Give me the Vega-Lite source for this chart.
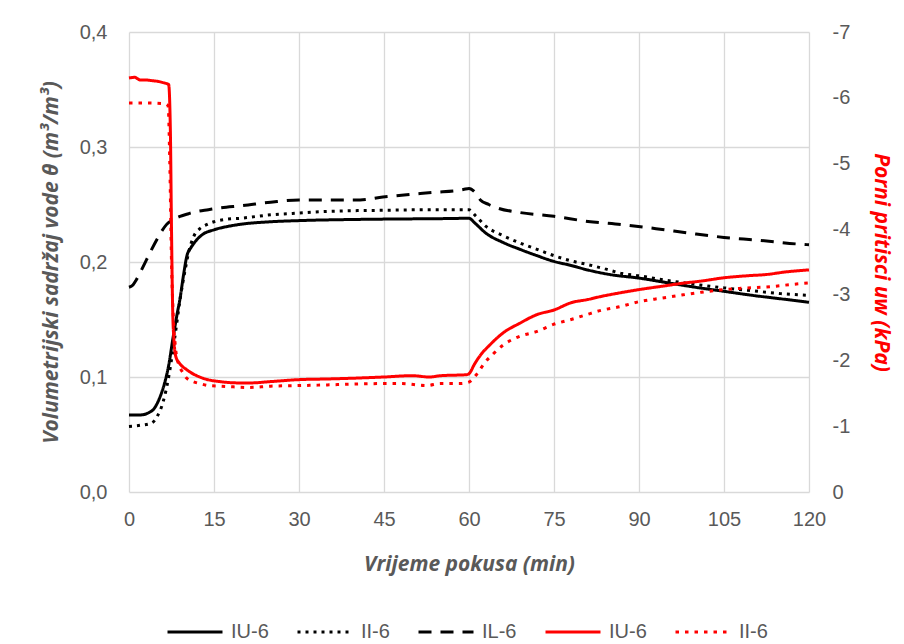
{
  "$schema": "https://vega.github.io/schema/vega-lite/v6.json",
  "width": 680,
  "height": 460,
  "autosize": "none",
  "padding": {"left": 129, "top": 32, "right": 95, "bottom": 152},
  "background": "white",
  "config": {
    "view": {"stroke": null},
    "axis": {"labelFont": "Liberation Sans", "labelFontSize": 20, "labelColor": "#595959", "titleFont": "Open Sans", "titleFontSize": 21, "titleFontWeight": "bold", "titleFontStyle": "italic", "titleColor": "#595959", "gridColor": "#d9d9d9", "gridWidth": 1.3, "domain": false, "ticks": false, "labelFlush": false}
  },
  "datasets": {
    "pts": [
      {"s": "IU-6 t", "t": 0, "v": 0.067}, {"s": "IU-6 t", "t": 2, "v": 0.067}, {"s": "IU-6 t", "t": 3.5, "v": 0.069}, {"s": "IU-6 t", "t": 4.5, "v": 0.073}, {"s": "IU-6 t", "t": 5.5, "v": 0.083}, {"s": "IU-6 t", "t": 6.3, "v": 0.095}, {"s": "IU-6 t", "t": 7, "v": 0.11}, {"s": "IU-6 t", "t": 7.8, "v": 0.135}, {"s": "IU-6 t", "t": 8.5, "v": 0.155}, {"s": "IU-6 t", "t": 9, "v": 0.168}, {"s": "IU-6 t", "t": 9.6, "v": 0.188}, {"s": "IU-6 t", "t": 10.2, "v": 0.205}, {"s": "IU-6 t", "t": 11, "v": 0.213}, {"s": "IU-6 t", "t": 11.9, "v": 0.219}, {"s": "IU-6 t", "t": 13, "v": 0.224}, {"s": "IU-6 t", "t": 15, "v": 0.228}, {"s": "IU-6 t", "t": 17.5, "v": 0.231}, {"s": "IU-6 t", "t": 20, "v": 0.233}, {"s": "IU-6 t", "t": 25, "v": 0.235}, {"s": "IU-6 t", "t": 30, "v": 0.236}, {"s": "IU-6 t", "t": 40, "v": 0.237}, {"s": "IU-6 t", "t": 50, "v": 0.2375}, {"s": "IU-6 t", "t": 55, "v": 0.2377}, {"s": "IU-6 t", "t": 60, "v": 0.238}, {"s": "IU-6 t", "t": 61, "v": 0.234}, {"s": "IU-6 t", "t": 63, "v": 0.225}, {"s": "IU-6 t", "t": 66, "v": 0.217}, {"s": "IU-6 t", "t": 69, "v": 0.211}, {"s": "IU-6 t", "t": 72, "v": 0.2055}, {"s": "IU-6 t", "t": 75, "v": 0.2005}, {"s": "IU-6 t", "t": 78, "v": 0.197}, {"s": "IU-6 t", "t": 81, "v": 0.193}, {"s": "IU-6 t", "t": 85, "v": 0.189}, {"s": "IU-6 t", "t": 90, "v": 0.186}, {"s": "IU-6 t", "t": 95, "v": 0.182}, {"s": "IU-6 t", "t": 100, "v": 0.178}, {"s": "IU-6 t", "t": 105, "v": 0.1745}, {"s": "IU-6 t", "t": 110, "v": 0.171}, {"s": "IU-6 t", "t": 115, "v": 0.168}, {"s": "IU-6 t", "t": 120, "v": 0.165},

      {"s": "II-6 t", "t": 0, "v": 0.057}, {"s": "II-6 t", "t": 2, "v": 0.058}, {"s": "II-6 t", "t": 4, "v": 0.06}, {"s": "II-6 t", "t": 5, "v": 0.066}, {"s": "II-6 t", "t": 6, "v": 0.078}, {"s": "II-6 t", "t": 7, "v": 0.1}, {"s": "II-6 t", "t": 7.5, "v": 0.115}, {"s": "II-6 t", "t": 8.1, "v": 0.135}, {"s": "II-6 t", "t": 9, "v": 0.167}, {"s": "II-6 t", "t": 9.9, "v": 0.193}, {"s": "II-6 t", "t": 10.6, "v": 0.21}, {"s": "II-6 t", "t": 11.4, "v": 0.222}, {"s": "II-6 t", "t": 12.5, "v": 0.229}, {"s": "II-6 t", "t": 13.7, "v": 0.2325}, {"s": "II-6 t", "t": 15, "v": 0.235}, {"s": "II-6 t", "t": 17, "v": 0.237}, {"s": "II-6 t", "t": 19.6, "v": 0.238}, {"s": "II-6 t", "t": 25, "v": 0.241}, {"s": "II-6 t", "t": 30, "v": 0.2426}, {"s": "II-6 t", "t": 35, "v": 0.244}, {"s": "II-6 t", "t": 45, "v": 0.245}, {"s": "II-6 t", "t": 55, "v": 0.2455}, {"s": "II-6 t", "t": 60, "v": 0.2455}, {"s": "II-6 t", "t": 61, "v": 0.241}, {"s": "II-6 t", "t": 63, "v": 0.231}, {"s": "II-6 t", "t": 66, "v": 0.223}, {"s": "II-6 t", "t": 69, "v": 0.2165}, {"s": "II-6 t", "t": 72, "v": 0.211}, {"s": "II-6 t", "t": 75, "v": 0.2055}, {"s": "II-6 t", "t": 78, "v": 0.201}, {"s": "II-6 t", "t": 81, "v": 0.1977}, {"s": "II-6 t", "t": 84, "v": 0.194}, {"s": "II-6 t", "t": 87, "v": 0.19}, {"s": "II-6 t", "t": 90, "v": 0.188}, {"s": "II-6 t", "t": 95, "v": 0.184}, {"s": "II-6 t", "t": 100, "v": 0.1805}, {"s": "II-6 t", "t": 105, "v": 0.1775}, {"s": "II-6 t", "t": 110, "v": 0.175}, {"s": "II-6 t", "t": 115, "v": 0.1725}, {"s": "II-6 t", "t": 120, "v": 0.171},

      {"s": "IL-6 t", "t": 0, "v": 0.178}, {"s": "IL-6 t", "t": 0.7, "v": 0.18}, {"s": "IL-6 t", "t": 1.3, "v": 0.1846}, {"s": "IL-6 t", "t": 2.2, "v": 0.193}, {"s": "IL-6 t", "t": 3.1, "v": 0.202}, {"s": "IL-6 t", "t": 4, "v": 0.211}, {"s": "IL-6 t", "t": 4.9, "v": 0.2194}, {"s": "IL-6 t", "t": 5.8, "v": 0.227}, {"s": "IL-6 t", "t": 6.6, "v": 0.2325}, {"s": "IL-6 t", "t": 7.8, "v": 0.237}, {"s": "IL-6 t", "t": 9, "v": 0.2397}, {"s": "IL-6 t", "t": 10.5, "v": 0.242}, {"s": "IL-6 t", "t": 12, "v": 0.244}, {"s": "IL-6 t", "t": 14, "v": 0.2455}, {"s": "IL-6 t", "t": 16, "v": 0.247}, {"s": "IL-6 t", "t": 20, "v": 0.249}, {"s": "IL-6 t", "t": 25, "v": 0.252}, {"s": "IL-6 t", "t": 30, "v": 0.254}, {"s": "IL-6 t", "t": 40.8, "v": 0.254}, {"s": "IL-6 t", "t": 44.8, "v": 0.2565}, {"s": "IL-6 t", "t": 49, "v": 0.2585}, {"s": "IL-6 t", "t": 53.7, "v": 0.2605}, {"s": "IL-6 t", "t": 59, "v": 0.263}, {"s": "IL-6 t", "t": 60, "v": 0.264}, {"s": "IL-6 t", "t": 61, "v": 0.261}, {"s": "IL-6 t", "t": 62, "v": 0.254}, {"s": "IL-6 t", "t": 63.5, "v": 0.25}, {"s": "IL-6 t", "t": 65, "v": 0.247}, {"s": "IL-6 t", "t": 69, "v": 0.243}, {"s": "IL-6 t", "t": 75, "v": 0.2397}, {"s": "IL-6 t", "t": 81, "v": 0.2353}, {"s": "IL-6 t", "t": 87, "v": 0.2325}, {"s": "IL-6 t", "t": 93, "v": 0.229}, {"s": "IL-6 t", "t": 99, "v": 0.225}, {"s": "IL-6 t", "t": 105, "v": 0.2214}, {"s": "IL-6 t", "t": 111, "v": 0.219}, {"s": "IL-6 t", "t": 117.8, "v": 0.2157}, {"s": "IL-6 t", "t": 120, "v": 0.215},

      {"s": "IU-6 u", "t": 0, "v": -6.3}, {"s": "IU-6 u", "t": 1, "v": -6.31}, {"s": "IU-6 u", "t": 2, "v": -6.27}, {"s": "IU-6 u", "t": 3, "v": -6.27}, {"s": "IU-6 u", "t": 4, "v": -6.26}, {"s": "IU-6 u", "t": 5, "v": -6.25}, {"s": "IU-6 u", "t": 6, "v": -6.23}, {"s": "IU-6 u", "t": 7, "v": -6.2}, {"s": "IU-6 u", "t": 7.3, "v": -5.5}, {"s": "IU-6 u", "t": 7.5, "v": -4.0}, {"s": "IU-6 u", "t": 7.7, "v": -2.8}, {"s": "IU-6 u", "t": 7.9, "v": -2.35}, {"s": "IU-6 u", "t": 8.3, "v": -2.05}, {"s": "IU-6 u", "t": 9, "v": -1.95}, {"s": "IU-6 u", "t": 10.2, "v": -1.86}, {"s": "IU-6 u", "t": 13.1, "v": -1.73}, {"s": "IU-6 u", "t": 16, "v": -1.68}, {"s": "IU-6 u", "t": 19.6, "v": -1.66}, {"s": "IU-6 u", "t": 21.4, "v": -1.66}, {"s": "IU-6 u", "t": 25, "v": -1.68}, {"s": "IU-6 u", "t": 30, "v": -1.71}, {"s": "IU-6 u", "t": 35, "v": -1.72}, {"s": "IU-6 u", "t": 39, "v": -1.73}, {"s": "IU-6 u", "t": 45, "v": -1.75}, {"s": "IU-6 u", "t": 50, "v": -1.77}, {"s": "IU-6 u", "t": 53, "v": -1.75}, {"s": "IU-6 u", "t": 55, "v": -1.77}, {"s": "IU-6 u", "t": 59.6, "v": -1.785}, {"s": "IU-6 u", "t": 60, "v": -1.8}, {"s": "IU-6 u", "t": 61, "v": -1.95}, {"s": "IU-6 u", "t": 62, "v": -2.08}, {"s": "IU-6 u", "t": 63.7, "v": -2.24}, {"s": "IU-6 u", "t": 66, "v": -2.42}, {"s": "IU-6 u", "t": 69, "v": -2.57}, {"s": "IU-6 u", "t": 72, "v": -2.7}, {"s": "IU-6 u", "t": 75, "v": -2.77}, {"s": "IU-6 u", "t": 78, "v": -2.88}, {"s": "IU-6 u", "t": 81, "v": -2.93}, {"s": "IU-6 u", "t": 83, "v": -2.97}, {"s": "IU-6 u", "t": 86.6, "v": -3.03}, {"s": "IU-6 u", "t": 90, "v": -3.08}, {"s": "IU-6 u", "t": 94, "v": -3.13}, {"s": "IU-6 u", "t": 98, "v": -3.18}, {"s": "IU-6 u", "t": 101, "v": -3.21}, {"s": "IU-6 u", "t": 105, "v": -3.26}, {"s": "IU-6 u", "t": 109, "v": -3.29}, {"s": "IU-6 u", "t": 112.5, "v": -3.31}, {"s": "IU-6 u", "t": 116, "v": -3.35}, {"s": "IU-6 u", "t": 120, "v": -3.38},

      {"s": "II-6 u", "t": 0, "v": -5.92}, {"s": "II-6 u", "t": 3, "v": -5.92}, {"s": "II-6 u", "t": 6.3, "v": -5.91}, {"s": "II-6 u", "t": 6.9, "v": -5.88}, {"s": "II-6 u", "t": 7.2, "v": -5.0}, {"s": "II-6 u", "t": 7.5, "v": -3.5}, {"s": "II-6 u", "t": 7.8, "v": -2.7}, {"s": "II-6 u", "t": 8.2, "v": -2.2}, {"s": "II-6 u", "t": 8.7, "v": -1.96}, {"s": "II-6 u", "t": 9.5, "v": -1.82}, {"s": "II-6 u", "t": 10.2, "v": -1.73}, {"s": "II-6 u", "t": 11.3, "v": -1.68}, {"s": "II-6 u", "t": 12.5, "v": -1.65}, {"s": "II-6 u", "t": 14, "v": -1.62}, {"s": "II-6 u", "t": 16, "v": -1.61}, {"s": "II-6 u", "t": 18.4, "v": -1.6}, {"s": "II-6 u", "t": 21, "v": -1.59}, {"s": "II-6 u", "t": 25, "v": -1.61}, {"s": "II-6 u", "t": 30.2, "v": -1.62}, {"s": "II-6 u", "t": 35, "v": -1.63}, {"s": "II-6 u", "t": 39, "v": -1.64}, {"s": "II-6 u", "t": 44.8, "v": -1.65}, {"s": "II-6 u", "t": 48, "v": -1.65}, {"s": "II-6 u", "t": 52.5, "v": -1.62}, {"s": "II-6 u", "t": 55, "v": -1.65}, {"s": "II-6 u", "t": 58.4, "v": -1.65}, {"s": "II-6 u", "t": 59.9, "v": -1.67}, {"s": "II-6 u", "t": 61.3, "v": -1.785}, {"s": "II-6 u", "t": 62.8, "v": -1.97}, {"s": "II-6 u", "t": 64.5, "v": -2.12}, {"s": "II-6 u", "t": 66.1, "v": -2.24}, {"s": "II-6 u", "t": 69, "v": -2.37}, {"s": "II-6 u", "t": 71.9, "v": -2.44}, {"s": "II-6 u", "t": 74.9, "v": -2.55}, {"s": "II-6 u", "t": 77.8, "v": -2.62}, {"s": "II-6 u", "t": 80.8, "v": -2.7}, {"s": "II-6 u", "t": 83.1, "v": -2.76}, {"s": "II-6 u", "t": 86.6, "v": -2.82}, {"s": "II-6 u", "t": 90.2, "v": -2.9}, {"s": "II-6 u", "t": 94, "v": -2.95}, {"s": "II-6 u", "t": 97.8, "v": -3.0}, {"s": "II-6 u", "t": 101, "v": -3.04}, {"s": "II-6 u", "t": 104.9, "v": -3.08}, {"s": "II-6 u", "t": 108, "v": -3.1}, {"s": "II-6 u", "t": 112.5, "v": -3.12}, {"s": "II-6 u", "t": 118.4, "v": -3.17}, {"s": "II-6 u", "t": 120, "v": -3.18}
    ]
  },
  "data": {"name": "pts"},
  "encoding": {
    "x": {"field": "t", "type": "quantitative", "scale": {"domain": [0, 120], "nice": false, "zero": false},
      "axis": {"values": [0, 15, 30, 45, 60, 75, 90, 105, 120], "grid": true, "labelPadding": 17, "title": "Vrijeme pokusa (min)", "titlePadding": 24}},
    "color": {"field": "s", "type": "nominal",
      "scale": {"domain": ["IU-6 t", "II-6 t", "IL-6 t", "IU-6 u", "II-6 u"], "range": ["#000000", "#000000", "#000000", "#ff0000", "#ff0000"]},
      "legend": {"title": null, "orient": "none", "legendX": 37, "legendY": 571, "direction": "horizontal", "symbolType": "stroke", "symbolSize": 3025, "symbolStrokeWidth": 3, "labelFont": "Liberation Sans", "labelFontSize": 20, "labelColor": "#595959", "labelOffset": 7, "columnPadding": 22, "labelExpr": "slice(datum.label, 0, 4)"}},
    "strokeDash": {"field": "s", "type": "nominal",
      "scale": {"domain": ["IU-6 t", "II-6 t", "IL-6 t", "IU-6 u", "II-6 u"], "range": [[1, 0], [3, 5], [13, 9], [1, 0], [3.5, 6]]},
      "legend": {"title": null, "orient": "none", "legendX": 37, "legendY": 571, "direction": "horizontal", "symbolType": "stroke", "symbolSize": 3025, "symbolStrokeWidth": 3, "labelFont": "Liberation Sans", "labelFontSize": 20, "labelColor": "#595959", "labelOffset": 7, "columnPadding": 22, "labelExpr": "slice(datum.label, 0, 4)"}}
  },
  "layer": [
    {
      "transform": [{"filter": "indexof(datum.s, ' t') > 0"}],
      "mark": {"type": "line", "strokeWidth": 3, "interpolate": "monotone"},
      "encoding": {
        "y": {"field": "v", "type": "quantitative", "scale": {"domain": [0, 0.4], "nice": false},
          "axis": {"orient": "left", "values": [0, 0.1, 0.2, 0.3, 0.4], "grid": true, "labelPadding": 22, "labelExpr": "replace(format(datum.value, '.1f'), '.', ',')", "title": "Volumetrijski sadržaj vode θ  (m³/m³)", "titlePadding": 18}}
      }
    },
    {
      "transform": [{"filter": "indexof(datum.s, ' u') > 0"}],
      "mark": {"type": "line", "strokeWidth": 3, "interpolate": "monotone"},
      "encoding": {
        "y": {"field": "v", "type": "quantitative", "scale": {"domain": [-7, 0], "reverse": true, "nice": false, "zero": false},
          "axis": {"orient": "right", "values": [-7, -6, -5, -4, -3, -2, -1, 0], "grid": false, "labelPadding": 23, "labelExpr": "'' + datum.value", "title": "Porni pritisci uw  (kPa)", "titleColor": "#ff0000", "titlePadding": 21}}
      }
    }
  ],
  "resolve": {"scale": {"y": "independent"}}
}
